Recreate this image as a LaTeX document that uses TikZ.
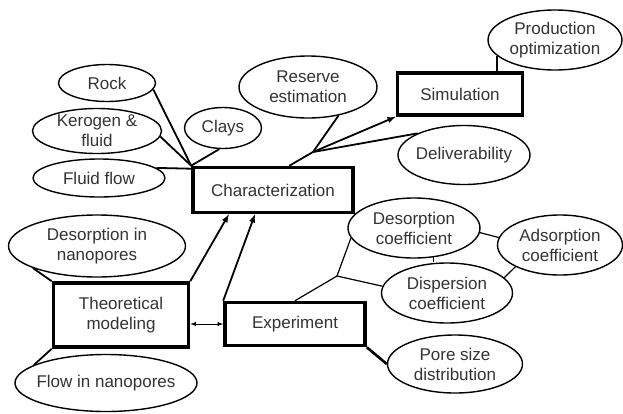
\documentclass[tikz,border=0pt]{standalone}
\usepackage{fontspec}
\setmainfont{Liberation Sans}
\usetikzlibrary{calc,shapes.geometric}

\begin{document}
\begin{tikzpicture}[x=1pt,y=-1pt,>=latex,
  every node/.style={font=\fontsize{17}{20}\selectfont,align=center,text=black!80},
  oval/.style n args={2}{ellipse,draw,line width=1.4pt,inner sep=-12pt,minimum width=#1,minimum height=#2},
  blk/.style n args={2}{rectangle,draw,line width=3.6pt,inner sep=0pt,minimum width=#1,minimum height=#2},
  con/.style={line width=1.8pt}]
\useasboundingbox (0,0) rectangle (623,413);
%ovals top left
\node[oval={97}{37}] (rock) at (107,83) {Rock};
\node[oval={129}{45}] (kerogen) at (97,131) {Kerogen \&\\fluid};
\node[oval={77}{41}] (clays) at (223,128) {Clays};
\node[oval={132}{38}] (fflow) at (99,178) {Fluid flow};
\node[oval={138}{62}] (reserve) at (308,87) {Reserve\\estimation};
\node[oval={134}{60}] (prodopt) at (555,40) {Production\\optimization};
\node[oval={132}{59}] (deliv) at (464,155) {Deliverability};
%boxes
\node[blk={160}{45}] (charact) at (273,190) {Characterization};
\node[blk={125}{42}] (sim) at (460,94) {Simulation};
\node[blk={135}{64}] (theo) at (121,315) {Theoretical\\modeling};
\node[blk={140}{43}] (exper) at (295,324) {Experiment};
%ovals bottom
\node[oval={177}{62}] (desnano) at (97,246) {Desorption in\\nanopores};
\node[oval={182}{57}] (flownano) at (106,383) {Flow in nanopores};
\node[oval={132}{60}] (descoef) at (414,228) {Desorption\\coefficient};
\node[oval={125}{60}] (adscoef) at (560,245) {Adsorption\\coefficient};
\node[oval={131}{60}] (dispcoef) at (447,293) {Dispersion\\coefficient};
\node[oval={135}{58}] (poresize) at (455,364) {Pore size\\distribution};
\coordinate (j1) at (313,152);
\coordinate (j2) at (337,276);
%characterization links
\draw[con] (rock.-8) -- (charact.north west);
\draw[con] (kerogen.-5) -- (charact.north west);
\draw[con] (clays.-100) -- (charact.north west);
\draw[con] (fflow.10) -- ($(charact.north west)+(0,3)$);
\draw[con] ($(charact.north)!0.2!(charact.north east)$) -- (j1);
\draw[con] (j1) -- (reserve.-43);
\draw[con] (j1) -- (deliv.155);
\draw[con,->] (j1) -- (sim.south west);
\draw[con] (prodopt.195) -- (prodopt.195 |- sim.north);
%theory and experiment
\draw[con,->] (theo.north east) -- ($(charact.south west)!0.23!(charact.south east)$);
\draw[con,->] (exper.north west) -- ($(charact.south west)!0.39!(charact.south east)$);
\draw[line width=0.9pt,<->] (exper.west -| theo.east) -- (exper.west);
\draw[con] (desnano.199) -- (theo.north west);
\draw[con] (flownano.166) -- (theo.south west);
%coefficients
\draw[line width=1.2pt] (exper.north) -- (j2);
\draw[line width=1.2pt] (j2) -- (descoef.189);
\draw[line width=1.2pt] (j2) -- (dispcoef.174);
\draw[line width=1.2pt] (descoef.-4) -- (adscoef.173);
\draw[line width=1.2pt] (descoef.-57) -- (descoef.-57 |- dispcoef.north);
\draw[line width=1.2pt] (adscoef.206) -- (dispcoef.15);
\draw[line width=2.6pt] (exper.south east) -- (poresize.180);
\end{tikzpicture}
\end{document}
